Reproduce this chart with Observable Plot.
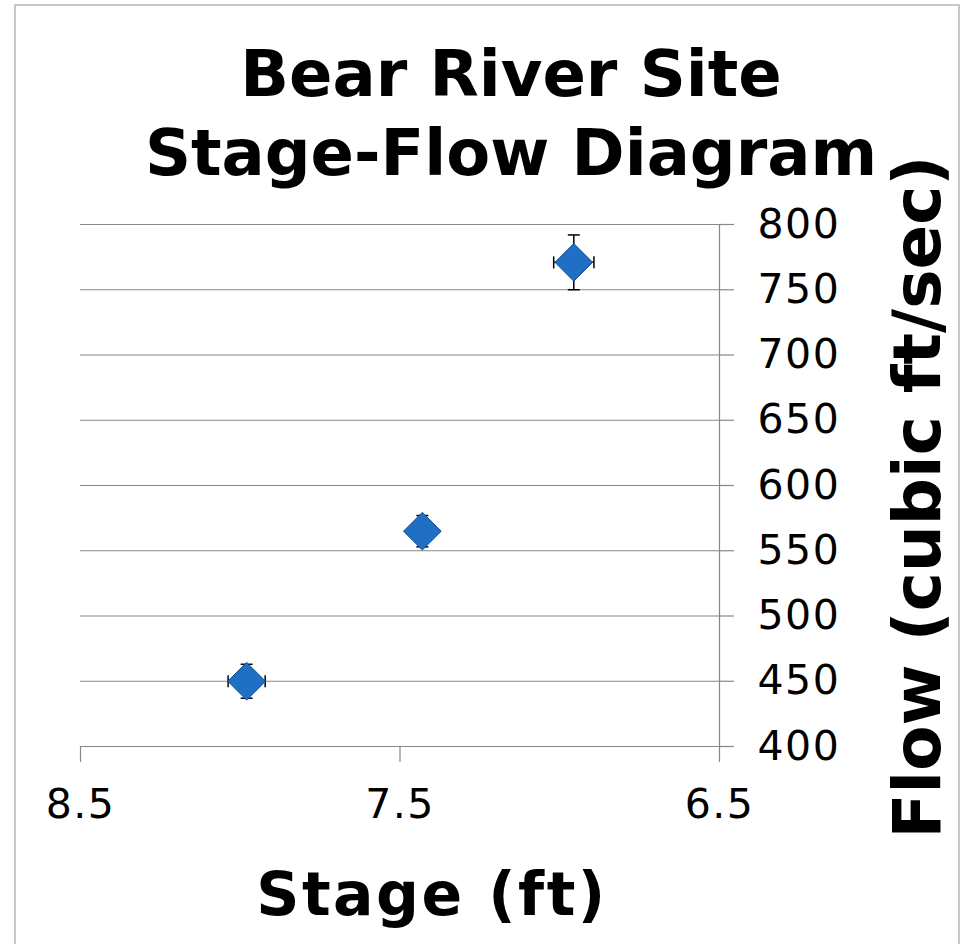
<!DOCTYPE html>
<html><head><meta charset="utf-8">
<script src="https://cdn.jsdelivr.net/npm/d3@7"></script>
<script src="https://cdn.jsdelivr.net/npm/@observablehq/plot@0.6"></script>
<style>
body{margin:0;background:#fff;overflow:hidden}
#wrap{position:relative;width:963px;height:944px;font-family:"DejaVu Sans",sans-serif;overflow:hidden}
#frame{position:absolute;left:14px;top:4px;width:946px;height:980px;border:2px solid #c8c8c8;box-sizing:border-box}
#plot{position:absolute;left:0;top:0}
#plot text{letter-spacing:1.5px}
.t{position:absolute;font-weight:bold;color:#000;white-space:nowrap}
</style></head><body>
<div id="wrap">
  <div id="frame"></div>
  <div id="plot"></div>
  <div class="t" id="title" style="left:0;width:1022px;text-align:center;top:35px;font-size:64px;line-height:79px">Bear River Site<br>Stage-Flow Diagram</div>
  <div class="t" id="xtitle" style="left:0;width:864px;text-align:center;top:864px;font-size:60px;line-height:60px;letter-spacing:2.5px">Stage (ft)</div>
  <div class="t" id="ytitle" style="left:918px;top:497px;font-size:66px;line-height:66px;transform:translate(-50%,-50%) rotate(-90deg)">Flow (cubic ft/sec)</div>
</div>
<script>
const stage = [7.98, 7.43, 6.956];
const flow = [450, 565, 771];
const stageErr = [0.058, 0.03, 0.063];
const flowErr = [13, 12, 21];
const xTicks = [8.5, 7.5, 6.5];
const yTicks = [400, 450, 500, 550, 600, 650, 700, 750, 800];

const data = stage.map((s, i) => ({stage: s, flow: flow[i], se: stageErr[i], fe: flowErr[i]}));

const hCap = {draw(ctx) { ctx.moveTo(-6, 0); ctx.lineTo(6, 0); }};
const vCap = {draw(ctx) { ctx.moveTo(0, -6); ctx.lineTo(0, 6); }};
const gray = "#878787";

const chart = Plot.plot({
  width: 963,
  height: 944,
  marginLeft: 80,
  marginRight: 244,
  marginTop: 224,
  marginBottom: 198,
  style: {fontFamily: "DejaVu Sans", fontSize: "41px", background: "transparent", color: "#000"},
  x: {domain: [8.5, 6.5]},
  y: {domain: [400, 800]},
  marks: [
    Plot.gridY(yTicks, {stroke: gray, strokeOpacity: 1, strokeWidth: 1.2}),
    Plot.ruleX([6.5], {stroke: gray, strokeWidth: 1.2}),
    Plot.axisY(yTicks, {anchor: "right", tickSize: 14, tickPadding: 24, stroke: gray, strokeWidth: 1.2, fill: "#000", label: null, tickFormat: d => String(d)}),
    Plot.axisX(xTicks, {anchor: "bottom", tickSize: 16, tickPadding: 26, stroke: gray, strokeWidth: 1.2, fill: "#000", label: null, tickFormat: d => d.toFixed(1)}),
    // error bars
    Plot.link(data, {x1: "stage", x2: "stage", y1: d => d.flow - d.fe, y2: d => d.flow + d.fe, stroke: "#000", strokeWidth: 1.5}),
    Plot.link(data, {x1: d => d.stage - d.se, x2: d => d.stage + d.se, y1: "flow", y2: "flow", stroke: "#000", strokeWidth: 1.5}),
    Plot.dot(data, {x: "stage", y: d => d.flow - d.fe, symbol: hCap, stroke: "#000", fill: "none", strokeWidth: 1.5}),
    Plot.dot(data, {x: "stage", y: d => d.flow + d.fe, symbol: hCap, stroke: "#000", fill: "none", strokeWidth: 1.5}),
    Plot.dot(data, {x: d => d.stage - d.se, y: "flow", symbol: vCap, stroke: "#000", fill: "none", strokeWidth: 1.5}),
    Plot.dot(data, {x: d => d.stage + d.se, y: "flow", symbol: vCap, stroke: "#000", fill: "none", strokeWidth: 1.5}),
    // markers
    Plot.dot(data, {x: "stage", y: "flow", symbol: "diamond2", r: 17, fill: "#1f6fc5", stroke: "#174d8c", strokeWidth: 1})
  ]
});
document.getElementById("plot").appendChild(chart);
</script>
</body></html>
